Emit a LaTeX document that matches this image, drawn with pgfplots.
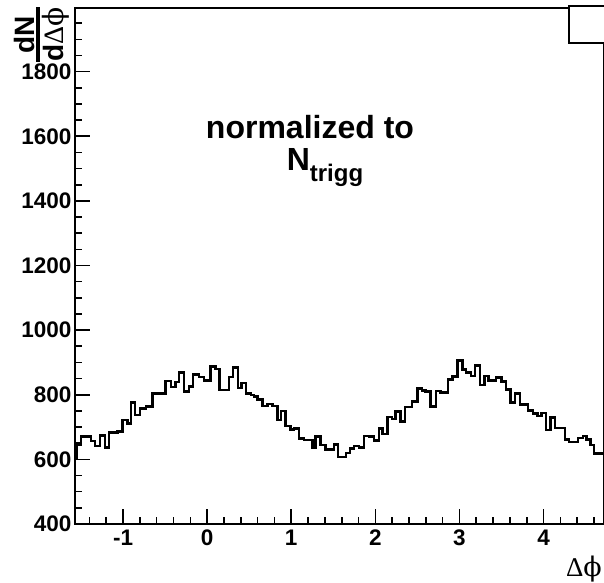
\documentclass[border=0pt]{standalone}
\usepackage{amsmath}
\usepackage{fontspec}
\setmainfont{Liberation Sans}
\newfontfamily\seriffont{Liberation Serif}
\newfontfamily\phifont{DejaVu Serif}
\usepackage{pgfplots}
\pgfplotsset{compat=1.18}
\newcommand{\dphi}{Δ{\phifont ϕ}}
\begin{document}
\begin{tikzpicture}
\begin{axis}[
  scale only axis, width=528.5pt, height=516pt,
  xmin=-1.5708, xmax=4.7124, ymin=400, ymax=1997,
  axis line style={line width=2pt},
  xtick={-1,0,1,2,3,4}, xticklabels={-1,0,1,2,3,4},
  ytick={400,600,800,1000,1200,1400,1600,1800},
  yticklabels={400,600,800,1000,1200,1400,1600,1800},
  minor xtick={-1.4,-1.2,-0.8,-0.6,-0.4,-0.2,0.2,0.4,0.6,0.8,1.2,1.4,1.6,1.8,2.2,2.4,2.6,2.8,3.2,3.4,3.6,3.8,4.2,4.4,4.6},
  minor ytick={450,500,...,1950},
  tick align=inside, tick pos=left,
  major tick length=15pt, minor tick length=7.5pt,
  every tick/.style={black, line width=1.6pt},
  tick label style={font=\fontsize{22.5}{24}\selectfont\bfseries},
  xticklabel style={yshift=-2pt},
]
\addplot[const plot, line width=2.5pt, black] coordinates {
(-1.5708,606.5) (-1.5475,646.8) (-1.5,670.3) (-1.3812,657) (-1.3302,641.5)
(-1.2743,673.4) (-1.2150,637.5) (-1.1639,682.7) (-1.0653,685.8) (-1.0059,722)
(-0.9466,711.8) (-0.9062,775.5) (-0.8551,737.5) (-0.7957,758.2) (-0.7280,763.2)
(-0.6496,804.6) (-0.4952,842.1) (-0.4311,824.2) (-0.3765,839) (-0.3325,869)
(-0.2732,810.8) (-0.2138,826.3) (-0.1663,862.2) (-0.0986,855.1) (-0.0356,844.3)
(0.0416,888.2) (0.1010,879) (0.1485,814.9) (0.2613,855.1) (0.3052,884.5)
(0.3646,821) (0.4074,836.5) (0.4596,804.6) (0.5190,799.4) (0.5582,794.1)
(0.5974,786.1) (0.6568,765.3) (0.7162,771.5) (0.7755,765.3) (0.8349,722)
(0.8753,749.8) (0.9347,703.4) (0.9941,693.2) (1.0333,696.3) (1.0926,665.3)
(1.1520,660.1) (1.2506,637.5) (1.2910,670.3) (1.3504,644.6) (1.4097,631.3)
(1.5083,646.8) (1.5558,607.4) (1.6508,619.8) (1.6983,634.4) (1.7458,641.5)
(1.8052,637.5) (1.8646,672.4) (1.9240,670.9) (1.9834,659.1) (2.0428,696.3)
(2.0843,678.6) (2.1437,731.3) (2.2007,725.1) (2.2411,747.7) (2.2981,716.7)
(2.3551,762.2) (2.4382,778.6) (2.5,820.1) (2.5570,812.7) (2.5974,809.6)
(2.6568,763.8) (2.7197,811.8) (2.7755,807.1) (2.8646,848) (2.9181,856)
(2.9774,906.2) (3.0368,878.9) (3.0760,868.4) (3.1354,858.2) (3.1865,890.7)
(3.2447,830.3) (3.2993,858.2) (3.3432,843.7) (3.4359,854.2) (3.4976,840.6)
(3.5511,817) (3.6045,775.5) (3.6580,804.6) (3.7173,770) (3.8124,750.8)
(3.8717,741.5) (3.9276,734.4) (3.9751,743.7) (4.0297,691) (4.0796,730.3)
(4.1330,697.2) (4.2518,662.2) (4.2993,653.3) (4.3527,653.9) (4.4121,666.3)
(4.4715,672.4) (4.5131,661.6) (4.5606,644.6) (4.5998,618.9) (4.7124,618.9)
};
\end{axis}
% empty stat box, top right
\draw[line width=2pt, fill=white] (494pt,481pt) rectangle (531pt,518pt);
% y label dN / d Delta phi
\begin{scope}[shift={(-36.5pt,489.5pt)}, rotate=90]
  \draw[line width=4pt] (-27.5pt,0) -- (27.5pt,0);
  \node[anchor=south, inner sep=0pt, transform shape] at (0,4pt) {\fontsize{28}{30}\selectfont\bfseries dN};
  \node[anchor=north, inner sep=0pt, transform shape] at (0,-4pt) {\fontsize{28}{30}\selectfont\bfseries d{\seriffont\mdseries\dphi}};
\end{scope}
% x label
\node[anchor=base east, inner sep=0pt] at (527pt,-52pt) {\fontsize{27}{30}\selectfont\seriffont\dphi};
% annotation
\node[anchor=center, inner sep=0pt] at (235pt,397pt) {\fontsize{32}{36}\selectfont\bfseries normalized to};
\node[anchor=base, inner sep=0pt] at (250pt,353pt) {\fontsize{32}{36}\selectfont\bfseries N\raisebox{-10pt}{\fontsize{24}{26}\selectfont trigg}};
\pgfresetboundingbox
\path[use as bounding box] (-75pt,-58pt) rectangle (529pt,524pt);
\end{tikzpicture}
\end{document}
